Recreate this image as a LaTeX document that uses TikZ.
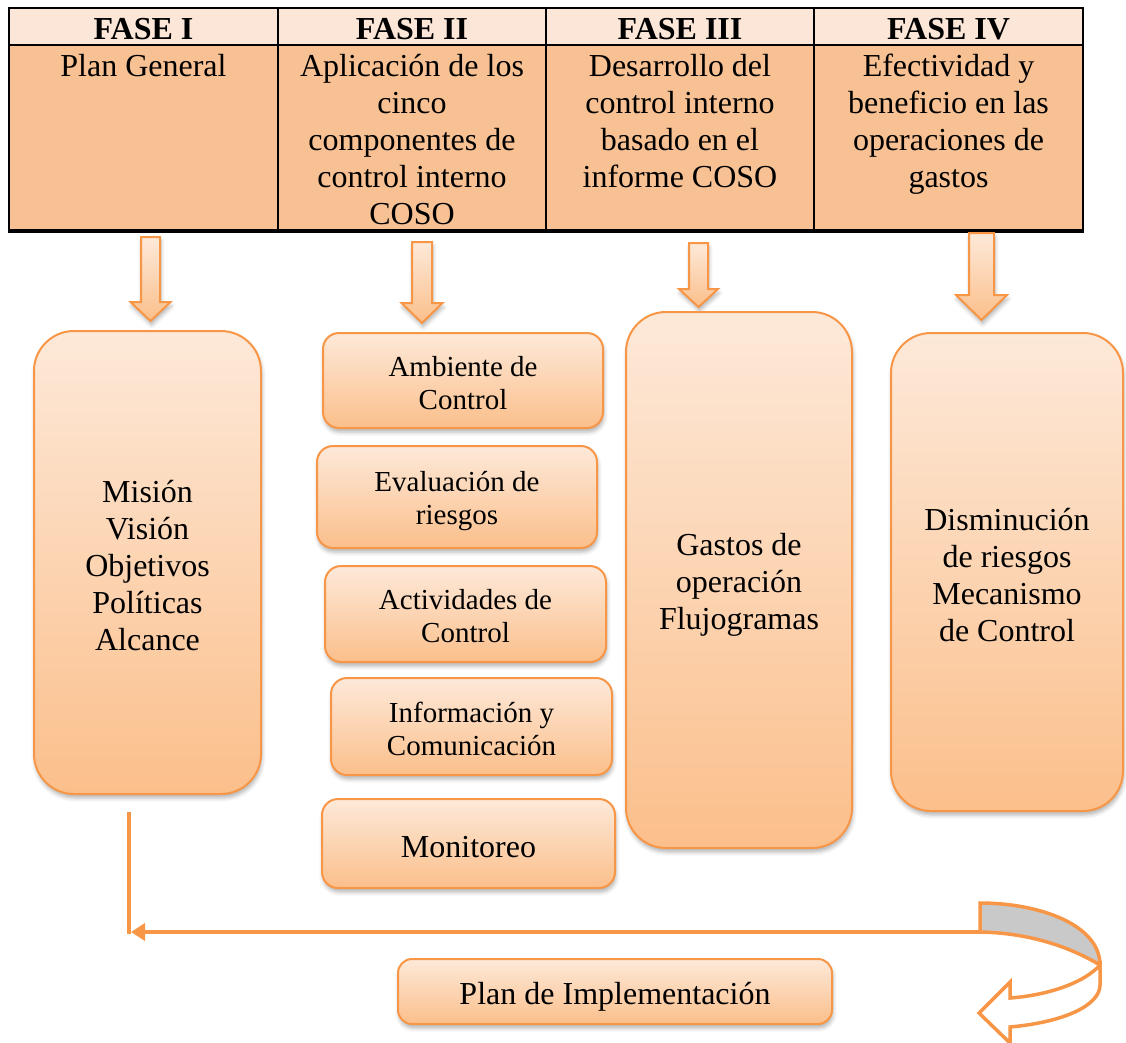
\documentclass[tikz,border=0pt]{standalone}
\usepackage{fontspec}
\setmainfont{Liberation Serif}
\usetikzlibrary{shadows.blur,arrows.meta}

\definecolor{frameOrange}{HTML}{F79646}
\definecolor{fillTop}{HTML}{FDE9D9}
\definecolor{fillBot}{HTML}{FBBF8B}
\definecolor{headRow}{HTML}{FCE6D7}
\definecolor{bodyRow}{HTML}{F8C193}
\definecolor{backBand}{HTML}{C9C9C9}

% struts for the first and the last line, so the capitals sit optically centred
\newcommand{\ts}{\rule{0pt}{0.87\baselineskip}}
\newcommand{\bs}{\rule[-0.13\baselineskip]{0pt}{0.13\baselineskip}}

% block arrow pointing down: centre x, top, neck, tip, shaft half width, head half width
\newcommand{\phasearrow}[6]{%
  \draw[blockarrow] ({#1-#5},#2) -- ({#1+#5},#2) -- ({#1+#5},#3) -- ({#1+#6},#3)
    -- (#1,#4) -- ({#1-#6},#3) -- ({#1-#5},#3) -- cycle;}

\tikzset{
  softshadow/.style={blur shadow={shadow xshift=1pt,shadow yshift=-4pt,
      shadow blur radius=4pt,shadow opacity=30}},
  phasebox/.style={draw=frameOrange,line width=2pt,rounded corners=#1,
      top color=fillTop,bottom color=fillBot,softshadow,
      inner sep=0pt,outer sep=0pt,align=center,
      font=\fontsize{32}{37}\selectfont},
  phasebox/.default=16pt,
  smallfont/.style={font=\fontsize{29}{33}\selectfont},
  blockarrow/.style={draw=frameOrange,line width=2pt,line join=miter,
      top color=fillTop,bottom color=fillBot,softshadow},
  headtext/.style={anchor=base,inner sep=0pt,font=\fontsize{32}{36}\bfseries\selectfont},
  celltext/.style={anchor=north,inner sep=0pt,align=center,
      font=\fontsize{32}{37}\selectfont},
  feedline/.style={draw=frameOrange,line width=4.5pt},
  curlband/.style={draw=frameOrange,line width=3.5pt,line join=miter},
}

\begin{document}
\begin{tikzpicture}[x=1pt,y=-1pt]
\useasboundingbox (0,0) rectangle (1126,1042);

% ---- phase table ----
\fill[headRow] (9,8) rectangle (1083,45);
\fill[bodyRow] (9,45) rectangle (1083,231);
\draw[line width=1.5pt] (9,45) -- (1083,45);
\draw[line width=2.5pt] (278,8) -- (278,231);
\draw[line width=2.5pt] (546,8) -- (546,231);
\draw[line width=2.5pt] (814,8) -- (814,231);
\draw[line width=2.5pt] (9,8) rectangle (1083,231);
\draw[line width=3.5pt] (8,231) -- (1084,231);

\node[headtext] (h1) at (143.5,39) {FASE I};
\node[headtext] (h2) at (412,39) {FASE II};
\node[headtext] (h3) at (680,39) {FASE III};
\node[headtext] (h4) at (948.5,39) {FASE IV};

\node[celltext] (c1) at (143.5,44) {\ts Plan General\bs};
\node[celltext] (c2) at (412,44) {\ts Aplicación de los\\cinco\\componentes de\\control interno\\COSO\bs};
\node[celltext] (c3) at (680,44) {\ts Desarrollo del\\control interno\\basado en el\\informe COSO\bs};
\node[celltext] (c4) at (948.5,44) {\ts Efectividad y\\beneficio en las\\operaciones de\\gastos\bs};

% ---- arrows from each phase ----
\phasearrow{150.5}{237}{302}{321}{9.5}{20}
\phasearrow{422}{242}{303}{323}{10}{20.5}
\phasearrow{698.5}{243}{289}{307}{9.5}{19.5}
\phasearrow{981.5}{233}{295}{320}{12.5}{25.5}

% ---- phase contents ----
\node[phasebox=40pt,minimum width=227pt,minimum height=463pt] (mision) at (147.5,562.5)
  {\ts Misión\\Visión\\Objetivos\\Políticas\\Alcance\bs};

\node[phasebox,smallfont,minimum width=280pt,minimum height=95pt] (ambiente) at (463,380.5)
  {\ts Ambiente de\\Control\bs};
\node[phasebox,smallfont,minimum width=280pt,minimum height=102pt] (evaluacion) at (457,497)
  {\ts Evaluación de\\riesgos\bs};
\node[phasebox,smallfont,minimum width=281pt,minimum height=96pt] (actividades) at (465.5,614)
  {\ts Actividades de\\Control\bs};
\node[phasebox,smallfont,minimum width=281pt,minimum height=97pt] (informacion) at (471.5,726.5)
  {\ts Información y\\Comunicación\bs};
\node[phasebox,minimum width=293pt,minimum height=89pt] (monitoreo) at (468.5,843.5)
  {\ts Monitoreo\bs};

\node[phasebox=40pt,minimum width=226pt,minimum height=536pt] (gastos) at (739,580)
  {\ts Gastos de\\operación\\Flujogramas\bs};
\node[phasebox=40pt,minimum width=232pt,minimum height=478pt] (disminucion) at (1007,572)
  {\ts Disminución\\de riesgos\\Mecanismo\\de Control\bs};

\node[phasebox=14pt,minimum width=434pt,minimum height=65pt] (plan) at (615,991.5)
  {\ts Plan de Implementación\bs};

% ---- feedback loop ----
\coordinate (fbTop) at (129,812);
\coordinate (fbCorner) at (129,934);
\coordinate (fbTip) at (131,932);
\coordinate (curlStart) at (980,932);
\draw[feedline] (fbTop) -- (fbCorner);
\draw[feedline,-{Triangle[length=14pt,width=17pt]}] (curlStart) -- (fbTip);

% curled arrow: back of the band, then its front with the head
\filldraw[curlband,fill=backBand] (980,903) .. controls (1040,903) and (1100,925) .. (1100,965)
  .. controls (1075,950) and (1035,933) .. (curlStart) -- cycle;
\filldraw[curlband,fill=white] (1100,965) .. controls (1085,982) and (1050,995) .. (1010,998)
  -- (1010,982) -- (979,1013) -- (1010,1043) -- (1010,1027)
  .. controls (1065,1022) and (1100,1005) .. (1100,985) -- cycle;
\end{tikzpicture}
\end{document}
